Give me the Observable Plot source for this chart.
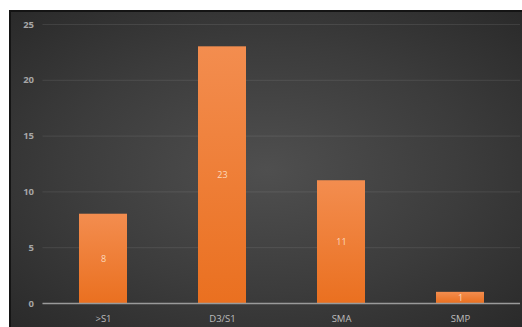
<!DOCTYPE html>
<html>
<head>
<meta charset="utf-8">
<script src="https://cdn.jsdelivr.net/npm/d3@7"></script>
<script src="https://cdn.jsdelivr.net/npm/@observablehq/plot@0.6"></script>
<style>
  html, body { margin: 0; padding: 0; background: #ffffff; }
  #wrap { position: relative; width: 522px; height: 327px; background: #ffffff; overflow: hidden; }
  #panel {
    position: absolute; left: 9px; top: 10px; width: 513px; height: 317px;
    box-sizing: border-box;
    border-top: 2px solid #141414; border-left: 2px solid #141414;
    background: radial-gradient(ellipse at 50% 50%, #4f4f4f 0%, #3c3c3c 55%, #2a2a2a 100%);
  }
  #panel svg { position: absolute; left: 0; top: -2px; }
</style>
</head>
<body>
<div id="wrap"><div id="panel"></div></div>
<script>
const categories = [">S1", "D3/S1", "SMA", "SMP"];
const values = [8, 23, 11, 1];
const yTicks = [0, 5, 10, 15, 20, 25];

const data = categories.map((c, i) => ({category: c, value: values[i]}));

const chart = Plot.plot({
  width: 511,
  height: 317,
  marginLeft: 31.5,
  marginRight: 2,
  marginTop: 14,
  marginBottom: 24,
  style: {background: "transparent", fontFamily: "'Open Sans', 'DejaVu Sans', sans-serif"},
  x: {domain: categories, paddingInner: 0.6, paddingOuter: 0.3, label: null},
  y: {domain: [0, 25], label: null},
  marks: [
    Plot.gridY(yTicks, {stroke: "#ffffff", strokeOpacity: 0.09, strokeWidth: 1}),
    Plot.axisY(yTicks, {tickSize: 0, tickPadding: 9, fill: "#a6a6a6", fontSize: 9.5, fontWeight: "bold"}),
    Plot.axisX({tickSize: 0, tickPadding: 12, fill: "#bdbdbd", fontSize: 9.5}),
    Plot.barY(data, {x: "category", y: "value", fill: "url(#barGrad)"}),
    Plot.ruleY([0], {stroke: "#9a9a9a", strokeWidth: 1.5}),
    Plot.text(data, {x: "category", y: d => d.value / 2, text: d => String(d.value), fill: "#fcd9bd", fontSize: 9})
  ]
});

const ns = "http://www.w3.org/2000/svg";
const defs = document.createElementNS(ns, "defs");
defs.innerHTML = '<linearGradient id="barGrad" x1="0" y1="0" x2="0" y2="1">' +
  '<stop offset="0%" stop-color="#f38d4f"/>' +
  '<stop offset="100%" stop-color="#ea7020"/></linearGradient>';
chart.insertBefore(defs, chart.firstChild);
document.getElementById("panel").appendChild(chart);
</script>
</body>
</html>
